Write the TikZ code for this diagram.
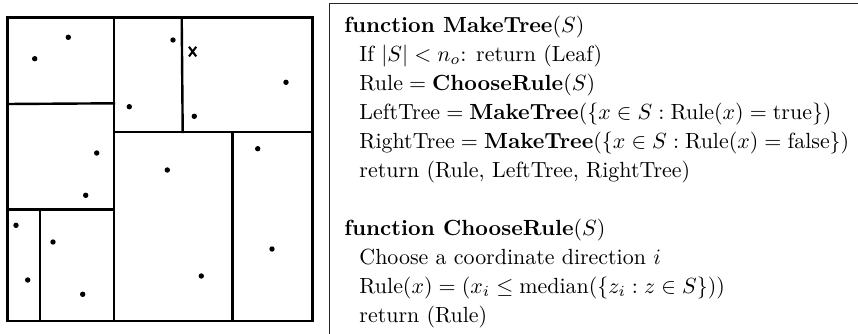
\documentclass[tikz,border=0pt]{standalone}
\begin{document}
\begin{tikzpicture}[x=0.456pt,y=-0.456pt,
  cut/.style={line width=1.1pt,line cap=rect},
  pt/.style={fill=black},
  cross/.style={line width=0.95pt},
  frameline/.style={line width=0.45pt,draw=black!85},
  codeline/.style={anchor=base west,inner sep=0pt,font=\fontsize{10}{12}\selectfont}]
\useasboundingbox (0,0) rectangle (858,333);

% --- partition of the plane (k-d tree cells) ---
\draw[cut] (7.3,17.3) rectangle (312.3,321);
\draw[cut] (114,17.3) -- (114,321);
\draw[cut] (7.3,104) -- (114,103.3);
\draw[cut] (7.3,209.3) -- (114,209.3);
\draw[cut] (40,209.3) -- (40,321);
\draw[cut] (114,132) -- (312.3,132);
\draw[cut] (181.7,17.3) -- (182.7,132);
\draw[cut] (232.3,132) -- (232.3,321);

% --- data points ---
\foreach \p in {(68.3,37.3),(34.7,58.7),(173,40),(286,82.3),(129.3,106.7),
  (194.3,116.3),(96.7,153),(167.3,170),(257.7,148.7),(85.7,195.3),
  (16,225.3),(53,242),(272,249),(27.7,280),(201.3,276),(82.7,294.3)}
  \fill[pt] \p circle[radius=2.7];

% --- query point, marked with a cross ---
\coordinate (query) at (192.6,51.6);
\draw[cross] ([shift={(-3.6,-4.8)}]query) -- ([shift={(3.6,4.8)}]query)
             ([shift={(3.6,-4.8)}]query) -- ([shift={(-3.6,4.8)}]query);

% --- pseudocode panel ---
\draw[frameline] (880,3.5) -- (329.5,3.5) -- (329.5,340);
\node[codeline] (l0) at (344,32) {\textbf{function MakeTree}$(S)$};
\node[codeline] (l1) at (359,61) {If $|S| < n_o$: return (Leaf)};
\node[codeline] (l2) at (359,90) {$\mbox{Rule} = \mathbf{ChooseRule}(S)$};
\node[codeline] (l3) at (359,119) {$\mbox{LeftTree} = \mathbf{MakeTree}(\{x \in S : \mbox{Rule}(x) = \mbox{true}\})$};
\node[codeline] (l4) at (359,148) {$\mbox{RightTree} = \mathbf{MakeTree}(\{x \in S : \mbox{Rule}(x) = \mbox{false}\})$};
\node[codeline] (l5) at (359,177) {return (Rule, LeftTree, RightTree)};
\node[codeline] (l7) at (344,235) {\textbf{function ChooseRule}$(S)$};
\node[codeline] (l8) at (359,264) {Choose a coordinate direction $i$};
\node[codeline] (l9) at (359,293) {$\mbox{Rule}(x) = (x_i \le \mbox{median}(\{z_i : z \in S\}))$};
\node[codeline] (l10) at (359,322) {return (Rule)};
\end{tikzpicture}
\end{document}
